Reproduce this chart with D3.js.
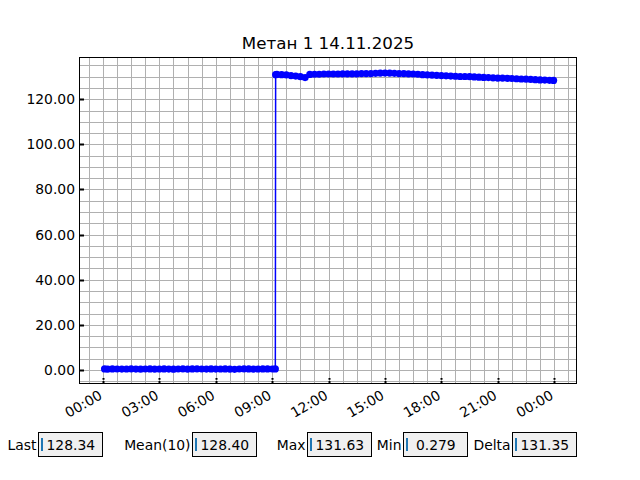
<!DOCTYPE html>
<html>
<head>
<meta charset="utf-8">
<script src="https://cdn.jsdelivr.net/npm/d3@7"></script>
<style>
  body { margin: 0; background: #fff; }
  text { font-family: "DejaVu Sans", sans-serif; }
</style>
</head>
<body>
<div id="chart"></div>
<script>
// data (times on 14.11.2025)
var title = "Метан 1 14.11.2025";

var lowTimes = ["00:05","00:15","00:30","00:45","01:00","01:15","01:30","01:45","02:00","02:15",
  "02:30","02:45","03:00","03:15","03:30","03:45","04:00","04:15","04:30","04:45",
  "05:00","05:15","05:30","05:45","06:00","06:15","06:30","06:45","07:00","07:15",
  "07:30","07:45","08:00","08:15","08:30","08:45","09:00","09:10"];
var lowValues = [0.42,0.38,0.45,0.40,0.36,0.41,0.44,0.39,0.35,0.40,
  0.43,0.37,0.41,0.46,0.39,0.34,0.40,0.44,0.38,0.42,
  0.47,0.40,0.36,0.43,0.39,0.41,0.45,0.38,0.279,0.40,
  0.44,0.42,0.37,0.41,0.46,0.43,0.40,0.42];

var highTimes = ["09:11","09:15","09:30","09:45","10:00","10:15","10:30","10:45","11:00","11:15",
  "11:30","11:45","12:00","12:15","12:30","12:45","13:00","13:15","13:30","13:45",
  "14:00","14:15","14:30","14:45","15:00","15:15","15:30","15:45","16:00","16:15",
  "16:30","16:45","17:00","17:15","17:30","17:45","18:00","18:15","18:30","18:45",
  "19:00","19:15","19:30","19:45","20:00","20:15","20:30","20:45","21:00","21:15",
  "21:30","21:45","22:00","22:15","22:30","22:45","23:00","23:15","23:30","23:45","23:58"];
var highValues = [130.9,131.0,130.9,130.8,130.5,130.3,130.0,129.6,131.0,131.1,
  131.1,131.2,131.2,131.2,131.2,131.3,131.3,131.3,131.3,131.4,
  131.4,131.4,131.5,131.6,131.63,131.6,131.5,131.4,131.4,131.3,
  131.2,131.1,130.9,130.8,130.7,130.6,130.5,130.4,130.3,130.2,
  130.1,130.1,130.0,129.9,129.8,129.7,129.6,129.5,129.4,129.4,
  129.3,129.2,129.1,129.0,128.9,128.8,128.7,128.6,128.5,128.4,128.34];

var statLabels = ["Last", "Mean(10)", "Max", "Min", "Delta"];
var statValues = ["128.34", "128.40", "131.63", " 0.279", "131.35"];

// ---------------------------------------------------------------
var W = 640, H = 480;
var margin = {top: 58, right: 64, bottom: 97, left: 80},
    width = W - margin.left - margin.right,
    height = H - margin.top - margin.bottom;

var base = new Date(2025, 10, 14);
function parseT(s) {
  var p = s.split(":");
  return new Date(base.getTime() + (+p[0] * 60 + +p[1]) * 60000);
}
var data = lowTimes.map((t, i) => ({t: parseT(t), v: lowValues[i]}))
  .concat(highTimes.map((t, i) => ({t: parseT(t), v: highValues[i]})));

var root = d3.select("#chart").append("svg")
  .attr("width", W).attr("height", H)
  .style("background", "#fff");

var svg = root.append("g")
  .attr("transform", "translate(" + margin.left + "," + margin.top + ")");

// scales (view from about 22:47 the day before to 01:10 the day after)
var x = d3.scaleTime()
  .domain([new Date(base.getTime() - 73.4 * 60000), new Date(base.getTime() + 1509.6 * 60000)])
  .range([0, width]);
var y = d3.scaleLinear().domain([-5.8, 138.3]).range([height, 0]);
var px = v => Math.round(v) + 0.5;

// grid (major + minor)
var minorX = d3.timeMinute.range(new Date(base - 90 * 60000), x.domain()[1], 45)
  .filter(d => d > x.domain()[0]);
svg.append("g").selectAll("line").data(minorX).join("line")
  .attr("x1", d => px(x(d))).attr("x2", d => px(x(d)))
  .attr("y1", 0).attr("y2", height)
  .attr("stroke", "#b0b0b0").attr("stroke-width", 1);
svg.append("g").selectAll("line").data(y.ticks(30)).join("line")
  .attr("x1", 0).attr("x2", width)
  .attr("y1", d => px(y(d))).attr("y2", d => px(y(d)))
  .attr("stroke", "#b0b0b0").attr("stroke-width", 1);

// line + markers
var line = d3.line().x(d => x(d.t)).y(d => y(d.v));
svg.append("path").datum(data)
  .attr("fill", "none").attr("stroke", "#0000ff").attr("stroke-width", 1.5)
  .attr("d", line);
svg.append("g").selectAll("circle").data(data).join("circle")
  .attr("cx", d => x(d.t)).attr("cy", d => y(d.v)).attr("r", 3.6)
  .attr("fill", "#0000ff");

// frame
svg.append("rect").attr("x", -0.5).attr("y", -0.5)
  .attr("width", width + 1).attr("height", height + 1)
  .attr("fill", "none").attr("stroke", "#000").attr("stroke-width", 1);

// y axis: ticks inside
var yTicks = y.ticks(8);
svg.append("g").selectAll("line").data(yTicks).join("line")
  .attr("x1", 0).attr("x2", 4).attr("y1", d => px(y(d))).attr("y2", d => px(y(d)))
  .attr("stroke", "#000").attr("stroke-width", 2);
svg.append("g").selectAll("text").data(yTicks).join("text")
  .attr("x", -5).attr("y", d => y(d)).attr("dy", "0.36em")
  .attr("text-anchor", "end").attr("font-size", 13.9).attr("fill", "#000")
  .text(d => d3.format(".2f")(d));

// x axis: ticks every 3 hours, labels rotated
var xTicks = x.ticks(d3.timeHour.every(3));
svg.append("g").selectAll("line").data(xTicks).join("line")
  .attr("x1", d => px(x(d))).attr("x2", d => px(x(d)))
  .attr("y1", height).attr("y2", height - 5)
  .attr("stroke", "#000").attr("stroke-width", 2)
  .attr("stroke-dasharray", "2,1.2");
svg.append("g").selectAll("text").data(xTicks).join("text")
  .attr("transform", d => "translate(" + (x(d) - 5) + "," + (height + 6) + ") rotate(-30)")
  .attr("dy", "0.75em")
  .attr("text-anchor", "end").attr("font-size", 13.9).attr("fill", "#000")
  .text(d => d3.timeFormat("%H:%M")(d));

// title
root.append("text")
  .attr("x", margin.left + width / 2).attr("y", 49)
  .attr("text-anchor", "middle").attr("font-size", 16.7).attr("fill", "#000")
  .text(title);

// stat boxes
var boxX = [38.5, 192.5, 307.5, 403.5, 512.5];
var boxes = root.append("g").selectAll("g").data(statLabels).join("g")
  .attr("transform", (d, i) => "translate(" + boxX[i] + ",432.5)");
boxes.append("text")
  .attr("x", -2).attr("y", 12).attr("dy", "0.36em")
  .attr("text-anchor", "end").attr("font-size", 13.9).attr("fill", "#000")
  .text(d => d);
boxes.append("rect")
  .attr("width", 64).attr("height", 24)
  .attr("fill", "#f0f0f0").attr("stroke", "#000").attr("stroke-width", 1);
boxes.append("line")
  .attr("x1", 3.5).attr("x2", 3.5).attr("y1", 5.5).attr("y2", 18.5)
  .attr("stroke", "#1f77b4").attr("stroke-width", 2);
boxes.append("text")
  .attr("x", 8).attr("y", 12).attr("dy", "0.36em")
  .attr("font-size", 13.9).attr("fill", "#000")
  .style("white-space", "pre")
  .text((d, i) => statValues[i]);
</script>
</body>
</html>
